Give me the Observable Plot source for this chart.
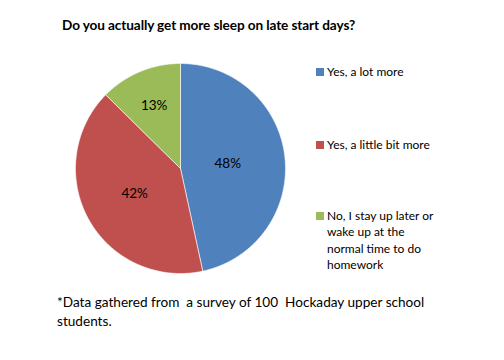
<!DOCTYPE html>
<html>
<head>
<meta charset="utf-8">
<script src="https://cdn.jsdelivr.net/npm/d3@7"></script>
<script src="https://cdn.jsdelivr.net/npm/@observablehq/plot@0.6"></script>
<style>
  html, body { margin: 0; padding: 0; background: #fff; }
  #wrap { position: relative; width: 504px; height: 360px; overflow: hidden; font-family: Lato, "Liberation Sans", sans-serif; color: #000; }
  #title { position: absolute; left: 62px; top: 17px; font-weight: bold; font-size: 13.6px; white-space: nowrap; letter-spacing: -0.1px; }
  #pie { position: absolute; left: 73px; top: 61px; }
  .leg { position: absolute; left: 316px; font-size: 12px; line-height: 16.3px; }
  .leg .sw { position: absolute; left: 0; top: 4px; width: 8px; height: 8px; }
  .leg .tx { margin-left: 11px; width: 170px; }
  #foot { position: absolute; left: 57px; top: 293px; font-size: 13.6px; line-height: 18.5px; white-space: pre; }
</style>
</head>
<body>
<div id="wrap">
  <div id="title"></div>
  <div id="pie"></div>
  <div id="legend"></div>
  <div id="foot"></div>
</div>
<script>
const title = "Do you actually get more sleep on late start days?";
const categories = ["Yes, a lot more", "Yes, a little bit more", "No, I stay up later or wake up at the normal time to do homework"];
const legendLines = [["Yes, a lot more"], ["Yes, a little bit more"], ["No, I stay up later or", "wake up at the", "normal time to do", "homework"]];
const values = [48, 42, 13];
const labels = ["48%", "42%", "13%"];
const colors = ["#4F81BD", "#C0504D", "#9BBB59"];
const footnote = "*Data gathered from  a survey of 100  Hockaday upper school\nstudents.";

document.getElementById("title").textContent = title;
document.getElementById("foot").textContent = footnote;

const arcs = d3.pie().sort(null).value(d => d.value)(categories.map((c, i) => ({key: c, value: values[i], label: labels[i]})));

const outline = [];
arcs.forEach(a => {
  const n = Math.max(2, Math.ceil((a.endAngle - a.startAngle) / 0.01));
  outline.push({key: a.data.key, x: 0, y: 0});
  for (let k = 0; k <= n; k++) {
    const t = a.startAngle + (a.endAngle - a.startAngle) * k / n;
    outline.push({key: a.data.key, x: Math.sin(t), y: Math.cos(t)});
  }
  outline.push({key: a.data.key, x: 0, y: 0});
});

const labelPts = arcs.map(a => {
  const th = a.endAngle - a.startAngle;
  const r = 4 * Math.sin(th / 2) / (3 * th);
  const m = (a.startAngle + a.endAngle) / 2;
  return {x: r * Math.sin(m), y: r * Math.cos(m), text: a.data.label};
});

const S = 214;
const pad = 2 / (S - 4) * 2;
const chart = Plot.plot({
  width: S, height: S, margin: 0,
  x: {domain: [-1 - pad, 1 + pad], axis: null},
  y: {domain: [-1 - pad, 1 + pad], axis: null},
  color: {domain: categories, range: colors},
  style: {background: "transparent", overflow: "visible"},
  marks: [
    Plot.line(outline, {x: "x", y: "y", z: "key", fill: "key", stroke: "#fff", strokeWidth: 0.6, strokeLinejoin: "round", curve: "linear"}),
    Plot.text(labelPts, {x: "x", y: "y", text: "text", fontSize: 13.5, fill: "#000", fontFamily: "Lato, sans-serif"})
  ]
});
document.getElementById("pie").appendChild(chart);

const legend = document.getElementById("legend");
const tops = [64, 137, 208];
legendLines.forEach((lines, i) => {
  const d = document.createElement("div");
  d.className = "leg";
  d.style.top = tops[i] + "px";
  const sw = document.createElement("div");
  sw.className = "sw";
  sw.style.background = colors[i];
  const tx = document.createElement("div");
  tx.className = "tx";
  tx.innerHTML = lines.map(l => l.replace(/&/g, "&amp;").replace(/</g, "&lt;")).join("<br>");
  d.appendChild(sw); d.appendChild(tx);
  legend.appendChild(d);
});
</script>
</body>
</html>
